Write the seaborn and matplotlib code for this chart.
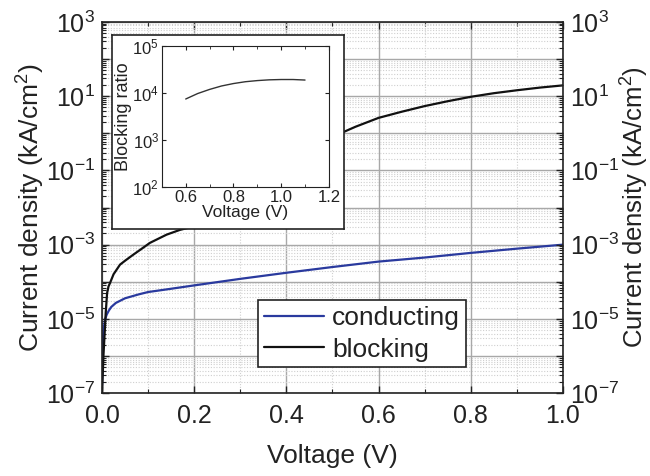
import matplotlib
matplotlib.use("Agg")
import matplotlib.pyplot as plt
import matplotlib.ticker as mticker
import numpy as np
import pandas as pd
import seaborn as sns

# main curves: current density (kA/cm^2) vs voltage (V)
cond_v = [0.0, 0.001, 0.002, 0.004, 0.007, 0.01, 0.015, 0.02, 0.03, 0.05, 0.08,
          0.1, 0.15, 0.2, 0.3, 0.4, 0.5, 0.6, 0.7, 0.8, 0.9, 1.0]
cond_j = [1.6e-7, 1.0e-6, 3.0e-6, 6.0e-6, 1.0e-5, 1.3e-5, 1.7e-5, 2.1e-5, 2.7e-5,
          3.6e-5, 4.6e-5, 5.3e-5, 6.5e-5, 8.0e-5, 1.2e-4, 1.75e-4, 2.5e-4, 3.5e-4,
          4.5e-4, 6.0e-4, 7.8e-4, 1.0e-3]

block_v = [0.0, 0.003, 0.006, 0.008, 0.011, 0.014, 0.017, 0.025, 0.039, 0.05, 0.068,
           0.085, 0.104, 0.14, 0.169, 0.19, 0.25, 0.3, 0.35, 0.4, 0.45, 0.5, 0.55,
           0.6, 0.65, 0.7, 0.75, 0.8, 0.85, 0.9, 0.95, 1.0]
block_j = [1.0e-7, 1.0e-6, 5.0e-6, 1.5e-5, 5.0e-5, 7.5e-5, 9.1e-5, 1.6e-4, 2.9e-4,
           3.7e-4, 5.4e-4, 7.6e-4, 1.12e-3, 1.86e-3, 2.5e-3, 2.9e-3, 6.3e-3, 1.8e-2,
           5.6e-2, 0.16, 0.38, 0.8, 1.5, 2.6, 3.8, 5.4, 7.3, 9.6, 12.0, 14.4, 17.0, 19.5]

# inset: blocking ratio
ratio_v = [0.6, 0.65, 0.7, 0.75, 0.8, 0.85, 0.9, 0.95, 1.0, 1.05, 1.1]
ratio = [7.5e3, 9.8e3, 1.2e4, 1.42e4, 1.6e4, 1.75e4, 1.85e4, 1.92e4, 1.95e4, 1.95e4, 1.9e4]

sns.set_style("ticks")
plt.rcParams["font.family"] = ["Liberation Sans", "DejaVu Sans"]
plt.rcParams["mathtext.fontset"] = "custom"
plt.rcParams["mathtext.rm"] = "Liberation Sans"
plt.rcParams["mathtext.it"] = "Liberation Sans:italic"
plt.rcParams["text.color"] = "#222222"

TXT = "#222222"


def dec_fmt(val, pos, keep_odd=True):
    e = int(round(np.log10(val)))
    if keep_odd and e % 2 == 0:
        return ""
    return r"$10^{%d}$" % e


fig = plt.figure(figsize=(6.5, 4.76), dpi=100)
ax = fig.add_axes([0.157, 0.174, 0.709, 0.780])

cond = pd.DataFrame({"v": cond_v, "j": cond_j})
block = pd.DataFrame({"v": block_v, "j": block_j})
sns.lineplot(data=cond, x="v", y="j", ax=ax, color="#2a3a9e", lw=1.6, label="conducting")
sns.lineplot(data=block, x="v", y="j", ax=ax, color="#111111", lw=1.6, label="blocking")

ax.set_yscale("log")
ax.set_xlim(0, 1.0)
ax.set_ylim(1e-7, 1e3)
ax.xaxis.set_major_locator(mticker.MultipleLocator(0.2))
ax.xaxis.set_minor_locator(mticker.MultipleLocator(0.1))
ax.xaxis.set_major_formatter(mticker.FormatStrFormatter("%.1f"))
ax.yaxis.set_major_locator(mticker.LogLocator(base=10, numticks=20))
ax.yaxis.set_minor_locator(mticker.LogLocator(base=10, subs=np.arange(2, 10), numticks=20))
ax.yaxis.set_major_formatter(mticker.FuncFormatter(dec_fmt))
ax.yaxis.set_minor_formatter(mticker.NullFormatter())

ax.grid(which="major", color="#a8a8a8", lw=1.0, ls="-")
ax.grid(which="minor", color="#cfcfcf", lw=0.8, ls=(0, (1, 1.5)))
ax.set_axisbelow(True)

ax.tick_params(which="both", direction="in", top=True, colors="#222222",
               labelsize=18, pad=5)
ax.tick_params(axis="x", pad=8)
ax.tick_params(which="major", length=5, width=1)
ax.tick_params(which="minor", length=3, width=0.8)
ax.set_xlabel("Voltage (V)", fontsize=19, color=TXT, labelpad=11)
ax.set_ylabel("Current density (kA/cm$^2$)", fontsize=19, color=TXT, labelpad=-1)
for s in ax.spines.values():
    s.set_color("#222222")
    s.set_linewidth(1.2)

axr = ax.twinx()
axr.set_yscale("log")
axr.set_ylim(1e-7, 1e3)
axr.yaxis.set_major_locator(mticker.LogLocator(base=10, numticks=20))
axr.yaxis.set_minor_locator(mticker.LogLocator(base=10, subs=np.arange(2, 10), numticks=20))
axr.yaxis.set_major_formatter(mticker.FuncFormatter(dec_fmt))
axr.yaxis.set_minor_formatter(mticker.NullFormatter())
axr.tick_params(which="both", direction="in", colors="#222222", labelsize=18, pad=5)
axr.tick_params(which="major", length=5, width=1)
axr.tick_params(which="minor", length=3, width=0.8)
axr.set_ylabel("Current density (kA/cm$^2$)", fontsize=18.5, color=TXT, labelpad=0)
for s in axr.spines.values():
    s.set_visible(False)

leg = ax.legend(loc="upper left", bbox_to_anchor=(0.338, 0.25), fontsize=19,
                frameon=True, fancybox=False, edgecolor="#222222", framealpha=1,
                handlelength=2.3, borderpad=0.22, labelspacing=0.28, handletextpad=0.3,
                borderaxespad=0)
leg.get_frame().set_linewidth(1.2)

# inset frame
frame = fig.add_axes([0.172, 0.519, 0.357, 0.408])
frame.set_xticks([])
frame.set_yticks([])
frame.set_facecolor("white")
for s in frame.spines.values():
    s.set_color("#222222")
    s.set_linewidth(1.2)

ins = fig.add_axes([0.249, 0.607, 0.257, 0.296])
sns.lineplot(x=ratio_v, y=ratio, ax=ins, color="#333333", lw=1.0)
ins.set_yscale("log")
ins.set_xlim(0.5, 1.2)
ins.set_ylim(1e2, 1e5)
ins.xaxis.set_major_locator(mticker.MultipleLocator(0.2))
ins.xaxis.set_minor_locator(mticker.MultipleLocator(0.1))
ins.xaxis.set_major_formatter(mticker.FormatStrFormatter("%.1f"))
ins.yaxis.set_major_locator(mticker.LogLocator(base=10, numticks=10))
ins.yaxis.set_minor_locator(mticker.NullLocator())
ins.yaxis.set_major_formatter(mticker.FuncFormatter(lambda v, p: dec_fmt(v, p, False)))
ins.tick_params(which="both", direction="in", top=True, right=True,
                colors="#222222", labelsize=12, pad=2)
ins.tick_params(which="major", length=3, width=0.8)
ins.tick_params(which="minor", length=2, width=0.6)
ins.set_xlabel("Voltage (V)", fontsize=12.5, color=TXT, labelpad=0)
ins.set_ylabel("Blocking ratio", fontsize=13, color=TXT, labelpad=0)
for s in ins.spines.values():
    s.set_color("#222222")
    s.set_linewidth(0.8)

fig.savefig("out.png", dpi=100)
